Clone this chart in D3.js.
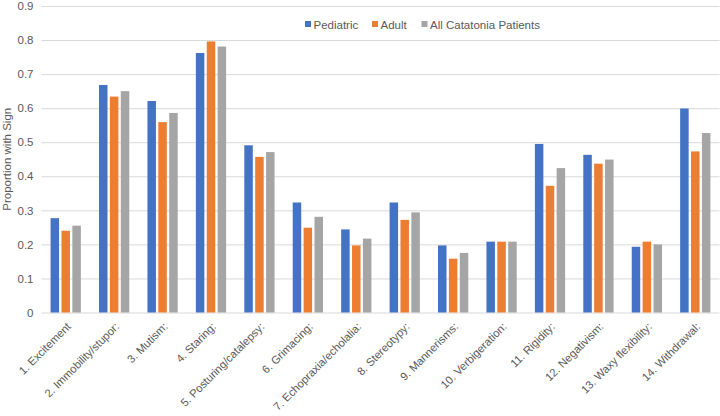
<!DOCTYPE html>
<html><head><meta charset="utf-8">
<script src="https://cdn.jsdelivr.net/npm/d3@7"></script>
<style>body{margin:0;background:#fff}svg{display:block;font-family:"Liberation Sans",Arial,sans-serif}</style>
</head><body><svg id="c" width="720" height="416"></svg>
<script>
const categories = ["1. Excitement","2. Immobility/stupor:","3. Mutism:","4. Staring:","5. Posturing/catalepsy:","6. Grimacing:","7. Echopraxia/echolalia:","8. Stereotypy:","9. Mannerisms:","10. Verbigeration:","11. Rigidity:","12. Negativism:","13. Waxy flexibility:","14. Withdrawal:"];
const seriesNames = ["Pediatric","Adult","All Catatonia Patients"];
const pediatric = [0.277,0.668,0.621,0.762,0.491,0.323,0.244,0.323,0.197,0.208,0.495,0.463,0.193,0.599];
const adult     = [0.240,0.634,0.559,0.796,0.457,0.249,0.197,0.272,0.158,0.208,0.372,0.437,0.208,0.473];
const allPts    = [0.255,0.650,0.586,0.781,0.471,0.281,0.217,0.294,0.175,0.208,0.424,0.449,0.200,0.527];
const yTicks = [0,0.1,0.2,0.3,0.4,0.5,0.6,0.7,0.8,0.9];
const colors = ["#4472C4","#ED7D31","#A5A5A5"];
const values = [pediatric, adult, allPts];

const svg = d3.select("#c");
const mLeft = 41.5, mRight = 719.5, mTop = 6, mBottom = 312.5;
const y = d3.scaleLinear().domain([0,0.9]).range([mBottom, mTop]);
const x0 = d3.scaleBand().domain(categories).range([mLeft, mRight]).paddingInner(0.375).paddingOuter(0.1875);
const x1 = d3.scaleBand().domain(seriesNames).range([0, x0.bandwidth()]).paddingInner(0.22);

// grid
const yAxis = d3.axisLeft(y).tickValues(yTicks).tickSize(-(mRight-mLeft)).tickPadding(8).tickFormat(d => d===0 ? "0" : d3.format(".1f")(d));
const ga = svg.append("g").attr("transform", `translate(${mLeft},0)`).call(yAxis);
ga.select(".domain").remove();
ga.selectAll(".tick line").attr("stroke","#D9D9D9").attr("stroke-width",1);
ga.selectAll(".tick text").attr("fill","#595959").attr("font-size","11.5px");

// bars
const groups = svg.append("g").selectAll("g").data(categories).join("g")
  .attr("transform", d => `translate(${x0(d)},0)`);
groups.selectAll("rect").data((d,i) => seriesNames.map((s,j) => ({s, v: values[j][i], j})))
  .join("rect")
  .attr("x", d => x1(d.s)).attr("width", x1.bandwidth())
  .attr("y", d => y(d.v)).attr("height", d => y(0) - y(d.v))
  .attr("fill", d => colors[d.j]);

// x axis labels
const xAxis = d3.axisBottom(x0).tickSize(0).tickPadding(0);
const gx = svg.append("g").attr("transform", `translate(0,${mBottom})`).call(xAxis);
gx.select(".domain").remove();
gx.selectAll(".tick text")
  .attr("fill","#595959").attr("font-size","11.2px")
  .attr("text-anchor","end")
  .attr("transform","translate(3,12) rotate(-45)")
  .attr("dy","0.35em").attr("y",0).attr("x",0);

// y title
svg.append("text").attr("transform", `translate(11,${(mTop+mBottom)/2}) rotate(-90)`)
  .attr("text-anchor","middle").attr("fill","#595959").attr("font-size","11.5px")
  .text("Proportion with Sign");

// legend
const legX = [305, 372, 421.5];
const leg = svg.append("g").selectAll("g").data(seriesNames).join("g")
  .attr("transform", (d,i) => `translate(${legX[i]},21)`);
leg.append("rect").attr("width",6).attr("height",6).attr("fill",(d,i)=>colors[i]);
leg.append("text").attr("x",8.5).attr("y",7.5).attr("fill","#595959").attr("font-size","11.5px").text(d=>d);
</script></body></html>
